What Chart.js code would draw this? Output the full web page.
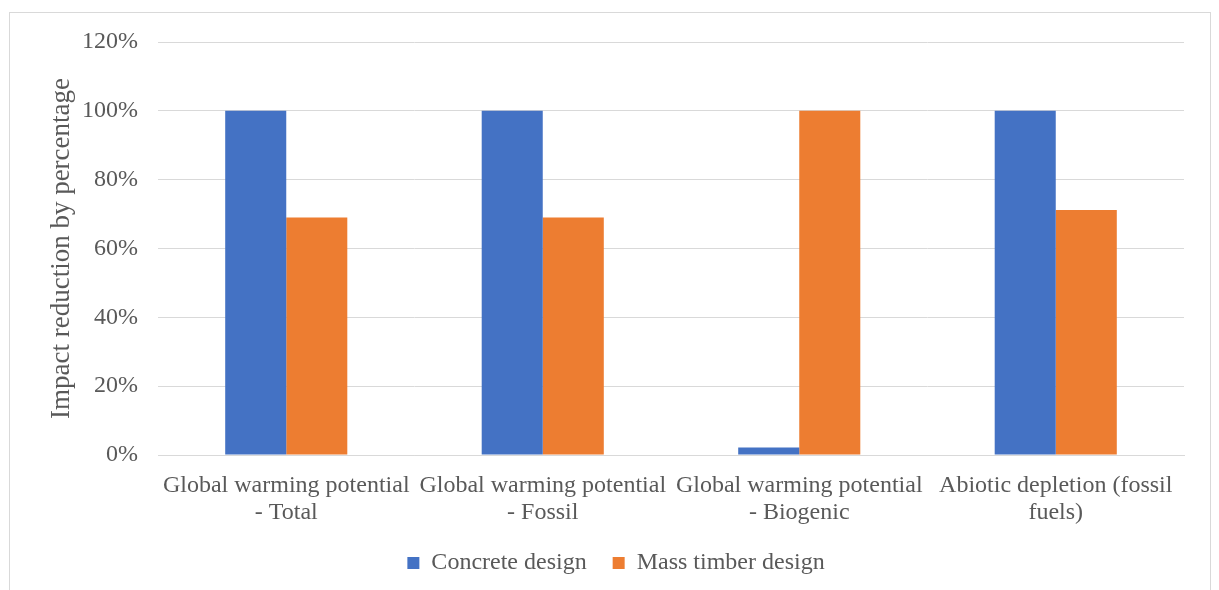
<!DOCTYPE html>
<html>
<head>
<meta charset="utf-8">
<script src="https://cdn.jsdelivr.net/npm/chart.js@4/dist/chart.umd.min.js"></script>
<style>
  html, body { margin: 0; padding: 0; background: #ffffff; }
  #wrap { position: relative; width: 1219px; height: 590px; }
  #frame { position: absolute; left: 9px; top: 12px; width: 1202px; height: 600px;
           border: 1px solid #d9d9d9; box-sizing: border-box; pointer-events: none; }
  canvas { position: absolute; left: 0; top: 0; }
</style>
</head>
<body>
<div id="wrap">
  <canvas id="chart" width="1219" height="590"></canvas>
  <div id="frame"></div>
</div>
<script>
const categories = [
  ["Global warming potential", "- Total"],
  ["Global warming potential", "- Fossil"],
  ["Global warming potential", "- Biogenic"],
  ["Abiotic depletion (fossil", "fuels)"]
];
const concreteDesign = [100, 100, 2.2, 100];
const massTimberDesign = [69, 69, 100, 71.2];
const seriesNames = ["Concrete design", "Mass timber design"];
const yTicks = [0, 20, 40, 60, 80, 100, 120];

const textColor = "#595959";
const serif = "'Liberation Serif', 'Times New Roman', serif";

new Chart(document.getElementById("chart"), {
  type: "bar",
  data: {
    labels: categories,
    datasets: [
      { label: seriesNames[0], data: concreteDesign, backgroundColor: "#4472C4",
        categoryPercentage: 0.476, barPercentage: 1.0 },
      { label: seriesNames[1], data: massTimberDesign, backgroundColor: "#ED7D31",
        categoryPercentage: 0.476, barPercentage: 1.0 }
    ]
  },
  options: {
    responsive: false,
    animation: false,
    layout: { padding: { left: 48, right: 35, top: 42, bottom: 5 } },
    plugins: {
      tooltip: { enabled: false },
      legend: {
        position: "bottom",
        labels: {
          color: textColor,
          font: { family: serif, size: 24 },
          boxWidth: 12, boxHeight: 12,
          padding: 26
        }
      }
    },
    scales: {
      x: {
        afterFit: (scale) => { scale.height = 70; },
        grid: { display: false, drawTicks: false },
        border: { display: true, color: "#d9d9d9", width: 1 },
        ticks: {
          color: textColor,
          font: { family: serif, size: 24, lineHeight: 1.125 },
          padding: 17,
          maxRotation: 0, autoSkip: false
        }
      },
      y: {
        min: 0, max: 120,
        afterBuildTicks: (scale) => { scale.ticks = yTicks.map(v => ({ value: v })); },
        afterFit: (scale) => { scale.width = 110; },
        grid: { color: "#d9d9d9", drawTicks: false },
        border: { display: false },
        ticks: {
          color: textColor,
          font: { family: serif, size: 24 },
          padding: 20,
          callback: (v) => v + "%"
        },
        title: {
          display: true,
          text: "Impact reduction by percentage",
          color: textColor,
          font: { family: serif, size: 27, lineHeight: 1 },
          padding: { top: 0, bottom: 0 }
        }
      }
    }
  }
});
</script>
</body>
</html>
